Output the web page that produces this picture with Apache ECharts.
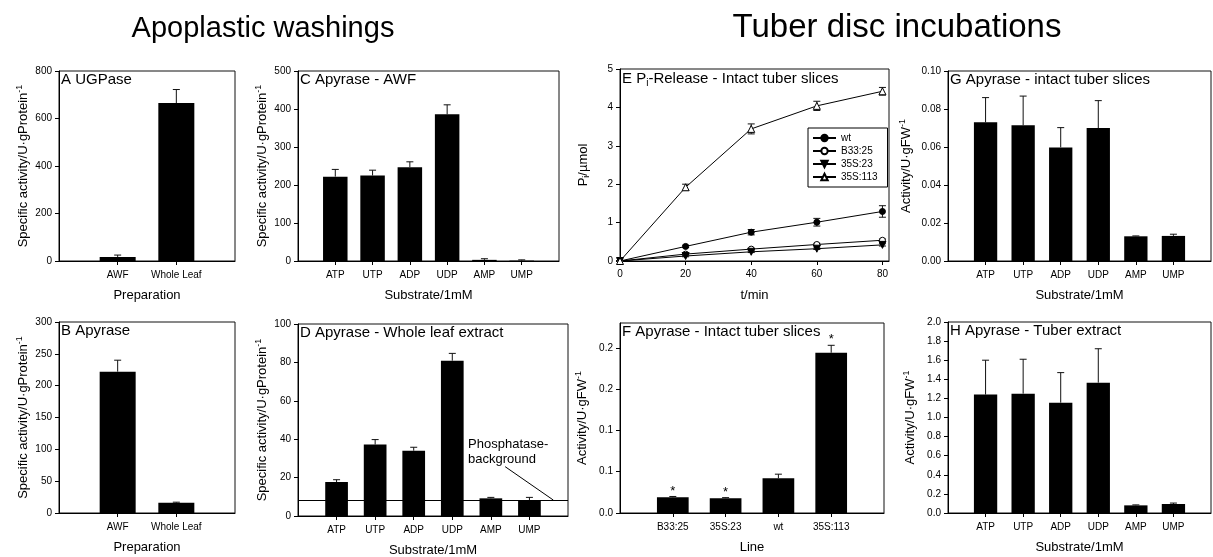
<!DOCTYPE html>
<html>
<head>
<meta charset="utf-8">
<script src="https://cdn.jsdelivr.net/npm/echarts@6/dist/echarts.min.js"></script>
<style>
  html, body { margin: 0; padding: 0; background: #fff; }
  #chart { width: 1213px; height: 557px; }
</style>
</head>
<body>
<div id="chart"></div>
<script>
// ---------- data ----------
const preparations = ['AWF', 'Whole Leaf'];
const ugpaseMean = [17, 665];
const ugpaseSE = [8, 57];
const apyrasePrepMean = [222, 16];
const apyrasePrepSE = [18, 1];

const substrates = ['ATP', 'UTP', 'ADP', 'UDP', 'AMP', 'UMP'];
const awfMean = [222, 225, 247, 386, 3, 1];
const awfSE = [19, 14, 14, 25, 3, 2];
const leafMean = [17.7, 37.2, 34.0, 80.9, 9.2, 8.3];
const leafSE = [1.2, 2.6, 1.8, 3.8, 0.5, 1.4];
const phosphataseBackground = 8.3;

const timePoints = [0, 20, 40, 60, 80];
const releaseLines = ['wt', 'B33:25', '35S:23', '35S:113'];
const releaseWt = [0, 0.38, 0.75, 1.01, 1.29];
const releaseWtSE = [0, 0.03, 0.07, 0.10, 0.15];
const releaseB33 = [0, 0.18, 0.31, 0.43, 0.54];
const releaseB33SE = [0, 0.02, 0.02, 0.03, 0.03];
const release35S23 = [0, 0.13, 0.24, 0.32, 0.42];
const release35S23SE = [0, 0.02, 0.02, 0.02, 0.03];
const release35S113 = [0, 1.92, 3.44, 4.04, 4.42];
const release35S113SE = [0, 0.08, 0.13, 0.12, 0.10];
const timeTicks = [0, 20, 40, 60, 80];

const sliceLines = ['B33:25', '35S:23', 'wt', '35S:113'];
const sliceMean = [0.019, 0.018, 0.042, 0.194];
const sliceSE = [0.001, 0.0006, 0.005, 0.009];
const sliceSignificant = [true, true, false, true];
const sliceTickValues = [0, 0.05, 0.10, 0.15, 0.20];
const sliceTickLabels = ['0.0', '0.1', '0.1', '0.2', '0.2'];

const sliceSubstrateMean = [0.073, 0.0714, 0.0598, 0.070, 0.013, 0.0132];
const sliceSubstrateSE = [0.013, 0.0154, 0.0104, 0.0144, 0.0002, 0.0009];
const tuberExtractMean = [1.24, 1.25, 1.155, 1.365, 0.08, 0.094];
const tuberExtractSE = [0.36, 0.36, 0.315, 0.355, 0.005, 0.01];

// ---------- layout & styling ----------
const FONT = '"Liberation Sans", Arial, Helvetica, sans-serif';
const INK = '#000';

const grids = [
  { left: 59,  top: 71,  width: 176, height: 190 },  // A
  { left: 59,  top: 322, width: 176, height: 191 },  // B
  { left: 298, top: 71,  width: 261, height: 190 },  // C
  { left: 298, top: 324, width: 270, height: 192 },  // D
  { left: 620, top: 69,  width: 269, height: 192 },  // E
  { left: 620, top: 323, width: 264, height: 190 },  // F
  { left: 948, top: 71,  width: 263, height: 190 },  // G
  { left: 948, top: 322, width: 263, height: 191 }   // H
].map(g => Object.assign({
  show: true, borderColor: '#111', borderWidth: 1,
  backgroundColor: 'transparent', containLabel: false, outerBoundsMode: 'none'
}, g));

const nameRich = {
  t:   { fontSize: 13, fontFamily: FONT, color: INK, lineHeight: 16, fontWeight: 'normal' },
  sup: { fontSize: 9,  fontFamily: FONT, color: INK, lineHeight: 9, verticalAlign: 'top', fontWeight: 'normal' },
  sub: { fontSize: 9,  fontFamily: FONT, color: INK, lineHeight: 9, verticalAlign: 'bottom', fontWeight: 'normal' }
};
const titleRich = {
  t:   { fontSize: 15, fontFamily: FONT, color: INK, lineHeight: 18, fontWeight: 'normal' },
  sub: { fontSize: 10, fontFamily: FONT, color: INK, lineHeight: 10, verticalAlign: 'bottom', fontWeight: 'normal' }
};

const axisLineStyle = { show: true, onZero: false, lineStyle: { color: INK, width: 1 } };
const tickStyle = { show: true, inside: false, length: 4, lineStyle: { color: INK, width: 1 } };
const labelBase = { fontSize: 10, color: INK, fontFamily: FONT };

function categoryX(gi, cats, name) {
  const pos = cats.map((c, i) => i + 1);
  return {
    type: 'value', gridIndex: gi, min: 0, max: cats.length + 1, interval: 1,
    axisLine: axisLineStyle,
    axisTick: Object.assign({ customValues: pos }, tickStyle),
    axisLabel: Object.assign({
      customValues: pos, margin: 9,
      formatter: v => (v >= 1 && v <= cats.length ? cats[v - 1] : '')
    }, labelBase),
    splitLine: { show: false },
    name: '{t|' + name + '}', nameLocation: 'middle', nameGap: 26,
    nameTextStyle: { rich: nameRich }
  };
}

function valueY(gi, min, max, interval, fmt, name, gap) {
  return {
    type: 'value', gridIndex: gi, min: min, max: max, interval: interval,
    axisLine: axisLineStyle, axisTick: tickStyle,
    axisLabel: Object.assign({ margin: 7, formatter: fmt }, labelBase),
    splitLine: { show: false },
    name: name, nameLocation: 'middle', nameGap: gap,
    nameTextStyle: { rich: nameRich }
  };
}

const specName = '{t|Specific activity/U·gProtein}{sup|-1}';
const fwName = '{t|Activity/U·gFW}{sup|-1}';

// vertical error bars: [x, mean, se]; up-only for bars, both ways for curves
function errorBars(gi, points, both, marks) {
  return {
    type: 'custom', xAxisIndex: gi, yAxisIndex: gi, z: both ? 1 : 4,
    silent: true, clip: false,
    data: points,
    renderItem: function (params, api) {
      const x = api.value(0), m = api.value(1), e = api.value(2);
      const hi = api.coord([x, m + e]);
      const lo = api.coord([x, both ? m - e : m]);
      const hw = 3.5;
      const st = { stroke: '#111', lineWidth: 1 };
      const kids = [
        { type: 'line', shape: { x1: hi[0], y1: hi[1], x2: lo[0], y2: lo[1] }, style: st },
        { type: 'line', shape: { x1: hi[0] - hw, y1: hi[1], x2: hi[0] + hw, y2: hi[1] }, style: st }
      ];
      if (both) {
        kids.push({ type: 'line', shape: { x1: lo[0] - hw, y1: lo[1], x2: lo[0] + hw, y2: lo[1] }, style: st });
      }
      if (marks && marks[params.dataIndex]) {
        kids.push({
          type: 'text',
          style: { text: '*', x: hi[0], y: hi[1] + 1, textAlign: 'center', textVerticalAlign: 'bottom',
                   fontSize: 13, fontFamily: FONT, fill: INK }
        });
      }
      return { type: 'group', children: kids };
    }
  };
}

function barSeries(gi, means, width, extra) {
  return Object.assign({
    type: 'bar', xAxisIndex: gi, yAxisIndex: gi, barWidth: width, z: 2,
    itemStyle: { color: INK },
    data: means.map((v, i) => [i + 1, v])
  }, extra || {});
}
function errPoints(means, se) { return means.map((v, i) => [i + 1, v, se[i]]); }

// ---------- axes ----------
const xAxes = [
  categoryX(0, preparations, 'Preparation'),
  categoryX(1, preparations, 'Preparation'),
  categoryX(2, substrates, 'Substrate/1mM'),
  categoryX(3, substrates, 'Substrate/1mM'),
  {
    type: 'value', gridIndex: 4, min: 0, max: 82, interval: 20,
    axisLine: axisLineStyle,
    axisTick: Object.assign({ customValues: timeTicks }, tickStyle),
    axisLabel: Object.assign({ customValues: timeTicks, margin: 8,
      formatter: v => (timeTicks.indexOf(v) >= 0 ? String(v) : '') }, labelBase),
    splitLine: { show: false },
    name: '{t|t/min}', nameLocation: 'middle', nameGap: 26, nameTextStyle: { rich: nameRich }
  },
  categoryX(5, sliceLines, 'Line'),
  categoryX(6, substrates, 'Substrate/1mM'),
  categoryX(7, substrates, 'Substrate/1mM')
];

const yAxes = [
  valueY(0, 0, 800, 200, v => v.toFixed(0), specName, 28),
  valueY(1, 0, 300, 50, v => v.toFixed(0), specName, 28),
  valueY(2, 0, 500, 100, v => v.toFixed(0), specName, 28),
  valueY(3, 0, 100, 20, v => v.toFixed(0), specName, 28),
  valueY(4, 0, 5, 1, v => v.toFixed(0), '{t|P}{sub|i}{t|/µmol}', 29),
  valueY(5, 0, 0.23, 0.05,
    v => { const k = sliceTickValues.findIndex(t => Math.abs(t - v) < 1e-9); return k >= 0 ? sliceTickLabels[k] : ''; },
    fwName, 30),
  valueY(6, 0, 0.1, 0.02, v => v.toFixed(2), fwName, 34),
  valueY(7, 0, 2, 0.2, v => v.toFixed(1), fwName, 30)
];
yAxes[5].axisTick = Object.assign({ customValues: sliceTickValues }, tickStyle);
yAxes[5].axisLabel.customValues = sliceTickValues;

// ---------- series ----------
const series = [];

// A, B
series.push(barSeries(0, ugpaseMean, 36), errorBars(0, errPoints(ugpaseMean, ugpaseSE)));
series.push(barSeries(1, apyrasePrepMean, 36), errorBars(1, errPoints(apyrasePrepMean, apyrasePrepSE)));

// C
series.push(barSeries(2, awfMean, 24.5), errorBars(2, errPoints(awfMean, awfSE)));

// D with the phosphatase background level
series.push(barSeries(3, leafMean, 22.7, {
  markLine: {
    silent: true, symbol: 'none', animation: false,
    label: { show: false },
    lineStyle: { color: INK, width: 1, type: 'solid' },
    data: [{ yAxis: phosphataseBackground }]
  }
}), errorBars(3, errPoints(leafMean, leafSE)));
series.push({
  type: 'custom', xAxisIndex: 3, yAxisIndex: 3, z: 5, silent: true, clip: false,
  data: [[phosphataseBackground]],
  renderItem: function (params, api) {
    const level = api.value(0);
    const txt = api.coord([4.41, 41.0]);
    const a = api.coord([5.37, 25.7]);
    const b = api.coord([6.62, level]);
    return {
      type: 'group', children: [
        { type: 'text', style: { text: 'Phosphatase-\nbackground', x: txt[0], y: txt[1],
            textAlign: 'left', textVerticalAlign: 'top', fontSize: 13, lineHeight: 14.5,
            fontFamily: FONT, fill: INK } },
        { type: 'line', shape: { x1: a[0], y1: a[1], x2: b[0], y2: b[1] },
          style: { stroke: INK, lineWidth: 1 } }
      ]
    };
  }
});

// E: Pi release curves
const releaseSets = [
  { name: 'wt',      v: releaseWt,     se: releaseWtSE,     symbol: 'circle',   rot: 0,   fill: INK,    size: 6 },
  { name: 'B33:25',  v: releaseB33,    se: releaseB33SE,    symbol: 'circle',   rot: 0,   fill: '#fff', size: 6 },
  { name: '35S:23',  v: release35S23,  se: release35S23SE,  symbol: 'triangle', rot: 180, fill: INK,    size: 7 },
  { name: '35S:113', v: release35S113, se: release35S113SE, symbol: 'triangle', rot: 0,   fill: '#fff', size: 7 }
];
releaseSets.forEach(s => {
  series.push(errorBars(4, timePoints.map((t, i) => [t, s.v[i], s.se[i]]), true));
  series.push({
    type: 'line', name: s.name, xAxisIndex: 4, yAxisIndex: 4, z: 3,
    data: timePoints.map((t, i) => [t, s.v[i]]),
    symbol: s.symbol, symbolSize: s.size, symbolRotate: s.rot, showAllSymbol: true,
    itemStyle: { color: s.fill, borderColor: INK, borderWidth: 1 },
    lineStyle: { color: INK, width: 1 }
  });
});

// F
series.push(barSeries(5, sliceMean, 31.7), errorBars(5, errPoints(sliceMean, sliceSE), false, sliceSignificant));

// G, H
series.push(barSeries(6, sliceSubstrateMean, 23.3), errorBars(6, errPoints(sliceSubstrateMean, sliceSubstrateSE)));
series.push(barSeries(7, tuberExtractMean, 23.3), errorBars(7, errPoints(tuberExtractMean, tuberExtractSE)));

// ---------- titles ----------
function panelTitle(text, gi, rich) {
  const g = grids[gi];
  return {
    text: text, left: g.left + 2, top: g.top + 1, padding: 0,
    textStyle: rich
      ? { rich: titleRich, fontWeight: 'normal' }
      : { fontSize: 15, fontWeight: 'normal', fontFamily: FONT, color: INK }
  };
}
const titles = [
  panelTitle('A UGPase', 0),
  panelTitle('B Apyrase', 1),
  panelTitle('C Apyrase - AWF', 2),
  panelTitle('D Apyrase - Whole leaf extract', 3),
  panelTitle('{t|E P}{sub|i}{t|-Release - Intact tuber slices}', 4, true),
  panelTitle('F Apyrase - Intact tuber slices', 5),
  panelTitle('G Apyrase - intact tuber slices', 6),
  panelTitle('H Apyrase - Tuber extract', 7)
];

function heading(text, cx, top, size) {
  return {
    type: 'text', x: cx, y: top, silent: true,
    style: { text: text, textAlign: 'center', textVerticalAlign: 'top',
             fontSize: size, fontFamily: FONT, fill: INK }
  };
}

const chart = echarts.init(document.getElementById('chart'), null, { renderer: 'canvas' });
chart.setOption({
  animation: false,
  backgroundColor: '#fff',
  textStyle: { fontFamily: FONT },
  title: titles,
  graphic: [
    heading('Apoplastic washings', 263, 14, 29),
    heading('Tuber disc incubations', 897, 11, 33)
  ],
  grid: grids,
  xAxis: xAxes,
  yAxis: yAxes,
  legend: {
    data: releaseLines, selectedMode: false, orient: 'vertical',
    left: 808, top: 128,
    backgroundColor: '#fff', borderColor: INK, borderWidth: 1,
    padding: [5, 10, 5, 4], itemWidth: 23, itemHeight: 8, itemGap: 3,
    textStyle: { fontSize: 10, color: INK, fontFamily: FONT }
  },
  series: series
});
</script>
</body>
</html>
